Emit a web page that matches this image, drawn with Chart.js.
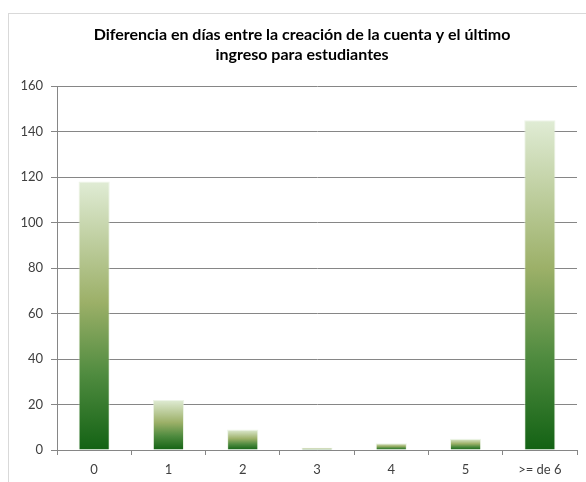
<!DOCTYPE html>
<html>
<head>
<meta charset="utf-8">
<script src="https://cdn.jsdelivr.net/npm/chart.js@4"></script>
<style>
  html, body { margin: 0; padding: 0; background: #ffffff; overflow: hidden; }
  #frame { position: absolute; left: 8px; top: 13px; width: 586px; height: 468px;
           border-left: 1px solid #d9d9d9; border-top: 1px solid #d9d9d9; }
  canvas { display: block; }
</style>
</head>
<body>
<div id="frame"><canvas id="c" width="586" height="468"></canvas></div>
<script>
const titleLines = ["Diferencia en días entre la creación de la cuenta y el último", "ingreso para estudiantes"];
const categories = ["0", "1", "2", "3", "4", "5", ">= de 6"];
const values = [118, 22, 9, 1, 3, 5, 145];
const yTicks = [0, 20, 40, 60, 80, 100, 120, 140, 160];

const FONT = "Lato, 'Open Sans', sans-serif";
const axisGray = "#868686";

function barGradient(ctx) {
  const chart = ctx.chart;
  if (!chart.chartArea || ctx.type !== 'data') return '#9bbb59';
  const y = chart.scales.y;
  const top = y.getPixelForValue(ctx.raw);
  const base = y.getPixelForValue(0);
  const g = chart.ctx.createLinearGradient(0, top, 0, Math.max(base, top + 1));
  g.addColorStop(0, '#e0ecd5');
  g.addColorStop(0.45, '#9cb068');
  g.addColorStop(0.72, '#4f8b3f');
  g.addColorStop(1, '#136214');
  return g;
}

const titleCenterFix = {
  id: 'titleCenterFix',
  afterLayout(chart) {
    if (chart.titleBlock) { chart.titleBlock.left = 0; chart.titleBlock.right = chart.width; }
  }
};

new Chart(document.getElementById('c'), {
  type: 'bar',
  data: {
    labels: categories,
    datasets: [{
      data: values,
      backgroundColor: barGradient,
      borderColor: 'rgba(225,236,215,0.6)',
      borderWidth: { left: 1, right: 1, top: 1, bottom: 0 },
      barPercentage: 0.42,
      categoryPercentage: 1.0
    }]
  },
  plugins: [titleCenterFix],
  options: {
    responsive: false,
    animation: false,
    layout: { padding: { left: 0, right: 18, top: 0, bottom: 0 } },
    plugins: {
      legend: { display: false },
      tooltip: { enabled: false },
      title: {
        display: true,
        text: titleLines,
        color: '#000000',
        font: { family: FONT, size: 16, weight: 'bold', lineHeight: 1.25 },
        padding: { top: 11, bottom: 21 }
      }
    },
    scales: {
      x: {
        grid: { display: true, drawOnChartArea: false, drawTicks: true, tickLength: 5, color: axisGray, offset: true },
        border: { display: true, color: axisGray },
        ticks: { color: '#404040', font: { family: FONT, size: 13 }, padding: 7, maxRotation: 0 },
        afterFit: (s) => { s.height = 32; }
      },
      y: {
        min: 0,
        max: 160,
        afterBuildTicks: (s) => { s.ticks = yTicks.map(v => ({ value: v })); },
        grid: { color: axisGray, tickLength: 6, drawTicks: true },
        border: { display: true, color: axisGray },
        ticks: { color: '#404040', font: { family: FONT, size: 13 }, padding: 8 },
        afterFit: (s) => { s.width = 48; }
      }
    }
  }
});
</script>
</body>
</html>
